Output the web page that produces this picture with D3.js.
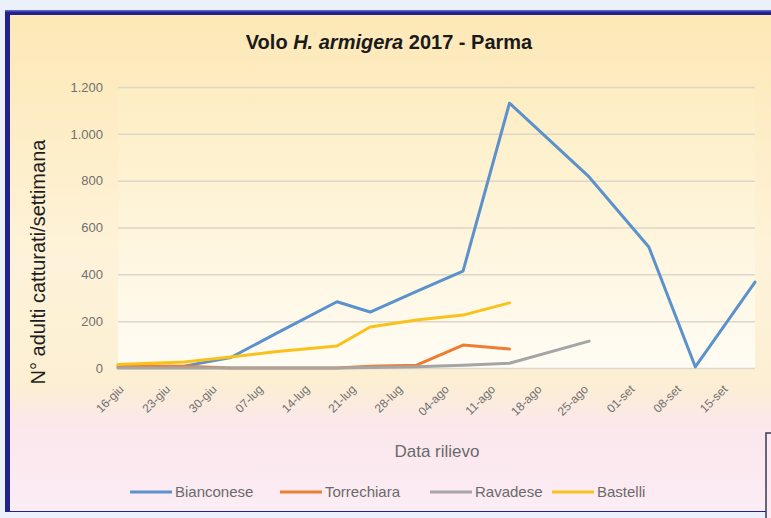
<!DOCTYPE html>
<meta charset="utf-8">
<style>
body { margin: 0; background: #eaf1fb; }
svg text { font-family: "Liberation Sans", Arial, sans-serif; }
.grid line { stroke: #ddd6ca; stroke-width: 1.5px; }
.grid path, .axis path { display: none; }
.axis--y text { fill: #707070; font-size: 13px; }
.axis--x text { fill: #707070; font-size: 12px; }
.line { fill: none; stroke-width: 3px; stroke-linejoin: round; stroke-linecap: round; }
.legend text { fill: #6a6a6a; font-size: 15px; }
</style>
<svg width="771" height="518"></svg>
<script src="https://d3js.org/d3.v7.min.js"></script>
<script>
// survey dates (one shared list, gaps = null)
var dates = ["2017-06-16","2017-06-26","2017-07-03","2017-07-10","2017-07-19","2017-07-24",
             "2017-07-31","2017-08-07","2017-08-14","2017-08-26","2017-09-04","2017-09-11","2017-09-20"];
var bianconese  = [2, 8, 45, 150, 283, 239, 327, 414, 1131, 816, 517, 5, 367];
var torrechiara = [10, 8, 0, 0, 0, 8, 12, 98, 81, null, null, null, null];
var ravadese    = [0, 0, 0, 0, 0, 2, 5, 12, 20, 115, null, null, null];
var bastelli    = [15, 26, 47, 70, 94, 175, 205, 226, 278, null, null, null, null];

var seriesNames  = ["Bianconese", "Torrechiara", "Ravadese", "Bastelli"];
var seriesColors = ["#5b92cc", "#ed7d31", "#a5a5a5", "#f9c21a"];

var xTickLabels = ["16-giu","23-giu","30-giu","07-lug","14-lug","21-lug","28-lug",
                   "04-ago","11-ago","18-ago","25-ago","01-set","08-set","15-set"];
var yTicks = [0, 200, 400, 600, 800, 1000, 1200];

var itTime = d3.timeFormatLocale({
  dateTime: "%A %e %B %Y, %X", date: "%d/%m/%Y", time: "%H:%M:%S",
  periods: ["AM", "PM"],
  days: ["domenica","lunedì","martedì","mercoledì","giovedì","venerdì","sabato"],
  shortDays: ["dom","lun","mar","mer","gio","ven","sab"],
  months: ["gennaio","febbraio","marzo","aprile","maggio","giugno","luglio","agosto","settembre","ottobre","novembre","dicembre"],
  shortMonths: ["gen","feb","mar","apr","mag","giu","lug","ago","set","ott","nov","dic"]
});
var parseTick = itTime.parse("%d-%b-%Y");
var parseDate = d3.timeParse("%Y-%m-%d");
var itNum = d3.formatLocale({decimal: ",", thousands: ".", grouping: [3], currency: ["€", ""]});

var svg = d3.select("svg");
var defs = svg.append("defs");

var bg = defs.append("linearGradient").attr("id", "bg")
    .attr("x1", 0).attr("y1", 0).attr("x2", 0).attr("y2", 1);
[[0, "#fde8b6"], [0.5, "#fef3da"], [0.74, "#fcefd2"], [0.83, "#fbe7ec"], [1, "#fcecf4"]]
  .forEach(function(s) { bg.append("stop").attr("offset", s[0]).attr("stop-color", s[1]); });

var pg = defs.append("linearGradient").attr("id", "plotbg")
    .attr("x1", 0).attr("y1", 0).attr("x2", 0).attr("y2", 1);
[[0, "#fdedc2"], [1, "#fffcf4"]]
  .forEach(function(s) { pg.append("stop").attr("offset", s[0]).attr("stop-color", s[1]); });

// frame
svg.append("rect").attr("x", 0).attr("y", 0).attr("width", 771).attr("height", 518).attr("fill", "#eaf1fb");
svg.append("rect").attr("x", 5).attr("y", 10).attr("width", 770).attr("height", 502).attr("fill", "#22228a");
svg.append("rect").attr("x", 5).attr("y", 10).attr("width", 770).attr("height", 1.5).attr("fill", "#5a64d6");
svg.append("rect").attr("x", 10).attr("y", 15).attr("width", 765).attr("height", 496).attr("fill", "url(#bg)");
svg.append("rect").attr("x", 766).attr("y", 433).attr("width", 30).attr("height", 100)
    .attr("fill", "#fbeaf1").attr("stroke", "#3a3a52").attr("stroke-width", 1.5);

var plotLeft = 118, plotRight = 755, plotTop = 87, plotBottom = 368;

var x = d3.scaleTime()
    .domain([parseDate("2017-06-16"), parseDate("2017-09-20")])
    .range([plotLeft, plotRight]);
var y = d3.scaleLinear().domain([0, 1200]).range([plotBottom, plotTop]);

svg.append("rect").attr("x", plotLeft).attr("y", plotTop)
    .attr("width", plotRight - plotLeft).attr("height", plotBottom - plotTop)
    .attr("fill", "url(#plotbg)");

svg.append("g")
    .attr("class", "grid")
    .attr("transform", "translate(" + plotLeft + ",0)")
    .call(d3.axisLeft(y).tickValues(yTicks).tickSize(-(plotRight - plotLeft)).tickFormat(""));

svg.append("g")
    .attr("class", "axis axis--y")
    .attr("transform", "translate(" + plotLeft + ",0)")
    .call(d3.axisLeft(y).tickValues(yTicks).tickSize(0).tickPadding(15).tickFormat(itNum.format(",d")));

svg.append("g")
    .attr("class", "axis axis--x")
    .attr("transform", "translate(0," + plotBottom + ")")
    .call(d3.axisBottom(x)
      .tickValues(xTickLabels.map(function(t) { return parseTick(t + "-2017"); }))
      .tickSize(0)
      .tickFormat(function(d, i) { return xTickLabels[i]; }))
  .selectAll("text")
    .attr("x", 0).attr("y", 0).attr("dy", 0)
    .attr("text-anchor", "end")
    .attr("transform", "translate(6,22) rotate(-45)");

var series = seriesNames.map(function(name, i) {
  var vals = [bianconese, torrechiara, ravadese, bastelli][i];
  return {
    name: name, color: seriesColors[i],
    values: dates.map(function(d, j) { return {date: parseDate(d), v: vals[j]}; })
  };
});

var line = d3.line()
    .defined(function(d) { return d.v != null; })
    .x(function(d) { return x(d.date); })
    .y(function(d) { return y(d.v); });

svg.selectAll(".line")
    .data(series)
  .enter().append("path")
    .attr("class", "line")
    .attr("stroke", function(d) { return d.color; })
    .attr("d", function(d) { return line(d.values); });

// titles
var title = svg.append("text")
    .attr("x", 389).attr("y", 49)
    .attr("text-anchor", "middle")
    .style("font-size", "20px").style("font-weight", "bold").attr("fill", "#1a1a1a");
title.append("tspan").text("Volo ");
title.append("tspan").style("font-style", "italic").text("H. armigera");
title.append("tspan").text(" 2017 - Parma");

svg.append("text")
    .attr("transform", "translate(45,262) rotate(-90)")
    .attr("text-anchor", "middle")
    .style("font-size", "20px").attr("fill", "#1e1e1e")
    .text("N° adulti catturati/settimana");

svg.append("text")
    .attr("x", 437).attr("y", 457)
    .attr("text-anchor", "middle")
    .style("font-size", "17px").attr("fill", "#6a6a6a")
    .text("Data rilievo");

// legend
var legendX = [130, 280, 430, 552];
var legend = svg.append("g").attr("class", "legend")
  .selectAll("g")
    .data(series)
  .enter().append("g")
    .attr("transform", function(d, i) { return "translate(" + legendX[i] + ",492)"; });
legend.append("line")
    .attr("x1", 0).attr("x2", 42)
    .attr("stroke", function(d) { return d.color; })
    .attr("stroke-width", 3);
legend.append("text")
    .attr("x", 45).attr("dy", "0.35em")
    .text(function(d) { return d.name; });
</script>
